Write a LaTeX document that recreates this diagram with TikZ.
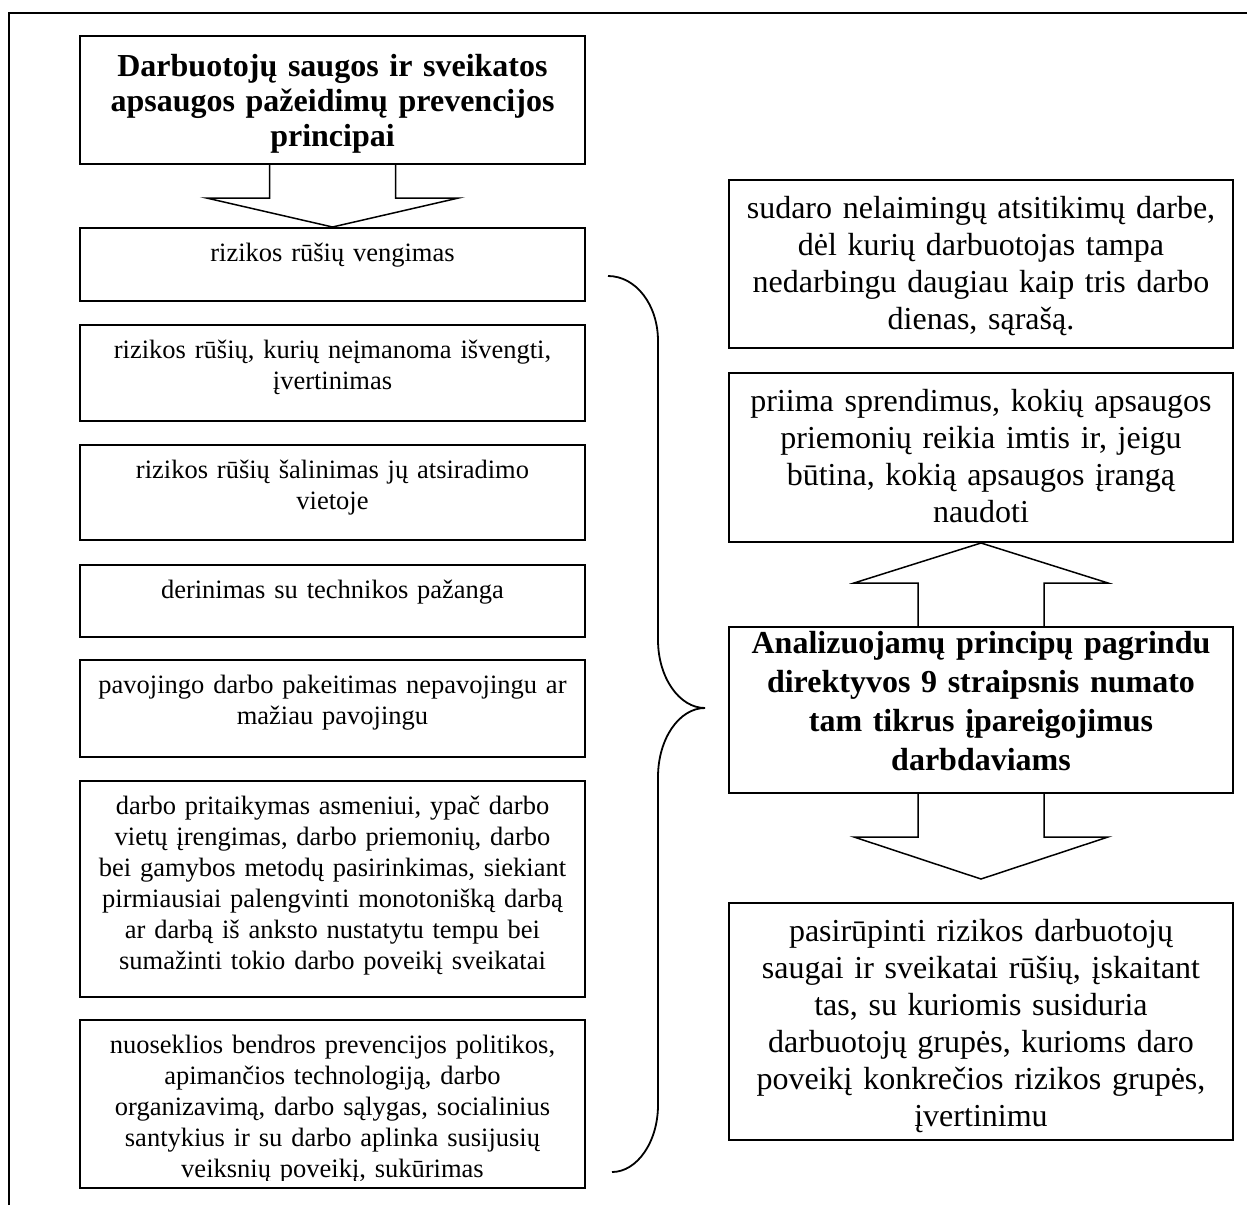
\documentclass[tikz,border=0pt]{standalone}
\usepackage{fontspec}
\setmainfont{Liberation Serif}
\usetikzlibrary{calc}

% text sizes used in the panels
\newcommand\lefttxt{\fontsize{13.25pt}{15.5pt}\selectfont}
\newcommand\righttxt{\fontsize{16pt}{18.5pt}\selectfont}
\newcommand\headtxt{\fontsize{16pt}{17.5pt}\selectfont\bfseries}
\newcommand\midtxt{\fontsize{16pt}{19.5pt}\selectfont\bfseries}

\begin{document}
\begin{tikzpicture}[x=0.5pt,y=-0.5pt,
  frameline/.style={line width=1pt},
  panel/.style={draw, line width=1pt, inner sep=0pt, rectangle},
  leftpanel/.style={panel, minimum width=252.5pt},
  rightpanel/.style={panel, minimum width=252pt},
  txt/.style={anchor=north, inner sep=0pt, align=center},
  lefttext/.style={txt, text width=248pt, font=\lefttxt},
  righttext/.style={txt, text width=248pt, font=\righttxt},
  blockarrow/.style={draw, line width=0.75pt, line join=miter},
  bracket/.style={draw, line width=0.9pt}
]
\useasboundingbox (0,0) rectangle (1247,1205);

% page frame (top and left edges)
\draw[frameline] (9,1205) -- (9,13) -- (1247,13);

% ---------- left column ----------
\node[leftpanel, minimum height=64pt]   (top) at (332.5,100)   {};
\node[leftpanel, minimum height=36.5pt] (b1)  at (332.5,264.5) {};
\node[leftpanel, minimum height=48pt]   (b2)  at (332.5,373)   {};
\node[leftpanel, minimum height=47.5pt] (b3)  at (332.5,492.5) {};
\node[leftpanel, minimum height=36pt]   (b4)  at (332.5,601)   {};
\node[leftpanel, minimum height=48.5pt] (b5)  at (332.5,708.5) {};
\node[leftpanel, minimum height=108pt]  (b6)  at (332.5,889)   {};
\node[leftpanel, minimum height=84pt]   (b7)  at (332.5,1104)  {};

\node[txt, text width=248pt, font=\headtxt] (ttop) at ($(top.north)+(0,16.5)$)
  {\strut Darbuotojų saugos ir sveikatos\\apsaugos pažeidimų prevencijos\\principai};
\node[lefttext] (t1) at ($(b1.north)+(0,12.5)$) {\strut rizikos rūšių vengimas};
\node[lefttext] (t2) at ($(b2.north)+(0,12.5)$)
  {\strut rizikos rūšių, kurių neįmanoma išvengti,\\įvertinimas};
\node[lefttext] (t3) at ($(b3.north)+(0,12.5)$)
  {\strut rizikos rūšių šalinimas jų atsiradimo\\vietoje};
\node[lefttext] (t4) at ($(b4.north)+(0,12.5)$) {\strut derinimas su technikos pažanga};
\node[lefttext] (t5) at ($(b5.north)+(0,12.5)$)
  {\strut pavojingo darbo pakeitimas nepavojingu ar\\mažiau pavojingu};
\node[lefttext] (t6) at ($(b6.north)+(0,12.5)$)
  {\strut darbo pritaikymas asmeniui, ypač darbo\\vietų įrengimas, darbo priemonių, darbo\\bei gamybos metodų pasirinkimas, siekiant\\pirmiausiai palengvinti monotonišką darbą\\ar darbą iš anksto nustatytu tempu bei\\sumažinti tokio darbo poveikį sveikatai};
% the last panel's text runs to its lower edge and is cut there
\begin{scope}
  \clip ($(b7.north west)$) rectangle ($(b7.south east)+(0,-9)$);
  \node[lefttext] (t7) at ($(b7.north)+(0,12.5)$)
    {\strut nuoseklios bendros prevencijos politikos,\\apimančios technologiją, darbo\\organizavimą, darbo sąlygas, socialinius\\santykius ir su darbo aplinka susijusių\\veiksnių poveikį, sukūrimas};
\end{scope}

% block arrow from the heading to the first principle
\draw[blockarrow] ($(top.south)+(-63,0)$) -- ($(top.south)+(-63,33)$)
  -- ($(top.south)+(-126,33)$) -- (b1.north) -- ($(top.south)+(126,33)$)
  -- ($(top.south)+(63,33)$) -- ($(top.south)+(63,0)$);

% curly bracket grouping the principles
\coordinate (brA) at (608,276);
\coordinate (brTip) at (705,708);
\coordinate (brB) at (612,1172);
\draw[bracket] (brA) .. controls (636,276) and (658,305) .. (658,341)
  -- (658,640) .. controls (658,677) and (679,708) .. (brTip)
  .. controls (679,708) and (658,739) .. (658,777)
  -- (658,1105) .. controls (658,1142) and (637,1172) .. (brB);

% ---------- right column ----------
\node[rightpanel, minimum height=84pt]    (r1) at (981,264)    {};
\node[rightpanel, minimum height=84.5pt]  (r2) at (981,457.5)  {};
\node[rightpanel, minimum height=83pt]    (r3) at (981,710)    {};
\node[rightpanel, minimum height=118.5pt] (r4) at (981,1021.5) {};

\node[righttext] (s1) at ($(r1.north)+(0,13)$)
  {\strut sudaro nelaimingų atsitikimų darbe,\\dėl kurių darbuotojas tampa\\nedarbingu daugiau kaip tris darbo\\dienas, sąrašą.};
\node[righttext] (s2) at ($(r2.north)+(0,13)$)
  {\strut priima sprendimus, kokių apsaugos\\priemonių reikia imtis ir, jeigu\\būtina, kokią apsaugos įrangą\\naudoti};
\node[txt, text width=248pt, font=\midtxt] (s3) at ($(r3.north)+(0,0)$)
  {\strut Analizuojamų principų pagrindu\\direktyvos 9 straipsnis numato\\tam tikrus įpareigojimus\\darbdaviams};
\node[righttext] (s4) at ($(r4.north)+(0,13)$)
  {\strut pasirūpinti rizikos darbuotojų\\saugai ir sveikatai rūšių, įskaitant\\tas, su kuriomis susiduria\\darbuotojų grupės, kurioms daro\\poveikį konkrečios rizikos grupės,\\įvertinimu};

% block arrow up to the decision panel
\draw[blockarrow] ($(r3.north)+(-63,0)$) -- ($(r3.north)+(-63,-43)$)
  -- ($(r3.north)+(-127,-43)$) -- (r2.south) -- ($(r3.north)+(127,-43)$)
  -- ($(r3.north)+(63,-43)$) -- ($(r3.north)+(63,0)$);

% block arrow down towards the assessment panel
\coordinate (downTip) at ($(r3.south)+(0,85)$);
\draw[blockarrow] ($(r3.south)+(-63,0)$) -- ($(r3.south)+(-63,43)$)
  -- ($(r3.south)+(-127,43)$) -- (downTip) -- ($(r3.south)+(127,43)$)
  -- ($(r3.south)+(63,43)$) -- ($(r3.south)+(63,0)$);
\end{tikzpicture}
\end{document}
